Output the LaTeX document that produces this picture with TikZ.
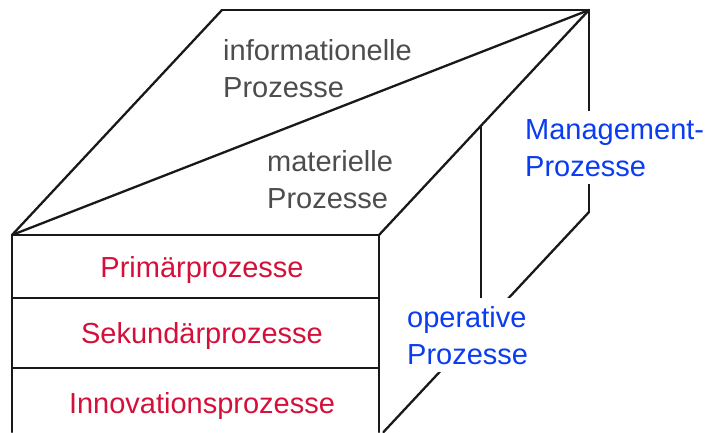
\documentclass[tikz,border=0pt]{standalone}
\usepackage{fontspec}
\setmainfont{Liberation Sans}
\definecolor{pGray}{RGB}{77,77,77}
\definecolor{pRed}{RGB}{212,16,58}
\definecolor{pBlue}{RGB}{10,60,240}
\tikzstyle{eS}=[line width=2.3pt,draw=black!90,line cap=round,line join=round]
\tikzstyle{tG}=[text=pGray,font=\fontsize{29}{37}\selectfont,align=left,anchor=base west,inner sep=0pt]
\tikzstyle{tR}=[text=pRed,font=\fontsize{29}{37}\selectfont,anchor=base,inner sep=0pt]
\tikzstyle{tB}=[text=pBlue,font=\fontsize{29}{37}\selectfont,align=left,anchor=base west,fill=white,inner xsep=2pt,inner ysep=8pt]

\begin{document}
\begin{tikzpicture}[x=1pt,y=-1pt]
                \useasboundingbox (0,0) rectangle (708,432);
                % cube corners
                \draw (12,235) coordinate (fTL);
                \draw (379,235) coordinate (fTR);
                \draw (222,10) coordinate (bTL);
                \draw (589,10) coordinate (bTR);
                \draw (589,212) coordinate (bBR);
                \draw (12,432) coordinate (fBL);
                \draw (379,432) coordinate (fBR);
                \draw (383.5,432) coordinate (bEnd);
                % front layers
                \draw (12,298) coordinate (l1L);
                \draw (379,298) coordinate (l1R);
                \draw (12,368) coordinate (l2L);
                \draw (379,368) coordinate (l2R);
                % right face split
                \draw (481,125.7) coordinate (mTop);
                \draw (481,310) coordinate (mBot);
                \path
                    (fTL) edge[eS] (bTL)
                    (bTL) edge[eS] (bTR)
                    (bTR) edge[eS] (fTR)
                    (fTR) edge[eS] (fTL)
                    (fTL) edge[eS] (bTR)
                    (fTL) edge[eS] (fBL)
                    (fTR) edge[eS] (fBR)
                    (l1L) edge[eS] (l1R)
                    (l2L) edge[eS] (l2R)
                    (bTR) edge[eS] (bBR)
                    (bBR) edge[eS] (bEnd)
                    (mTop) edge[eS] (mBot)
                ;
                % base anchor sits on the last line
                \draw (223,97) node[tG] (info) {informationelle\\Prozesse};
                \draw (267,208) node[tG] (mat) {materielle\\Prozesse};
                \draw (202,277) node[tR] (prim) {Primärprozesse};
                \draw (202,343) node[tR] (sek) {Sekundärprozesse};
                \draw (202,413) node[tR] (inno) {Innovationsprozesse};
                \draw (523,176) node[tB] (mgmt) {Management-\\Prozesse};
                \draw (405,364) node[tB] (oper) {operative\\Prozesse};
\end{tikzpicture}
\end{document}
